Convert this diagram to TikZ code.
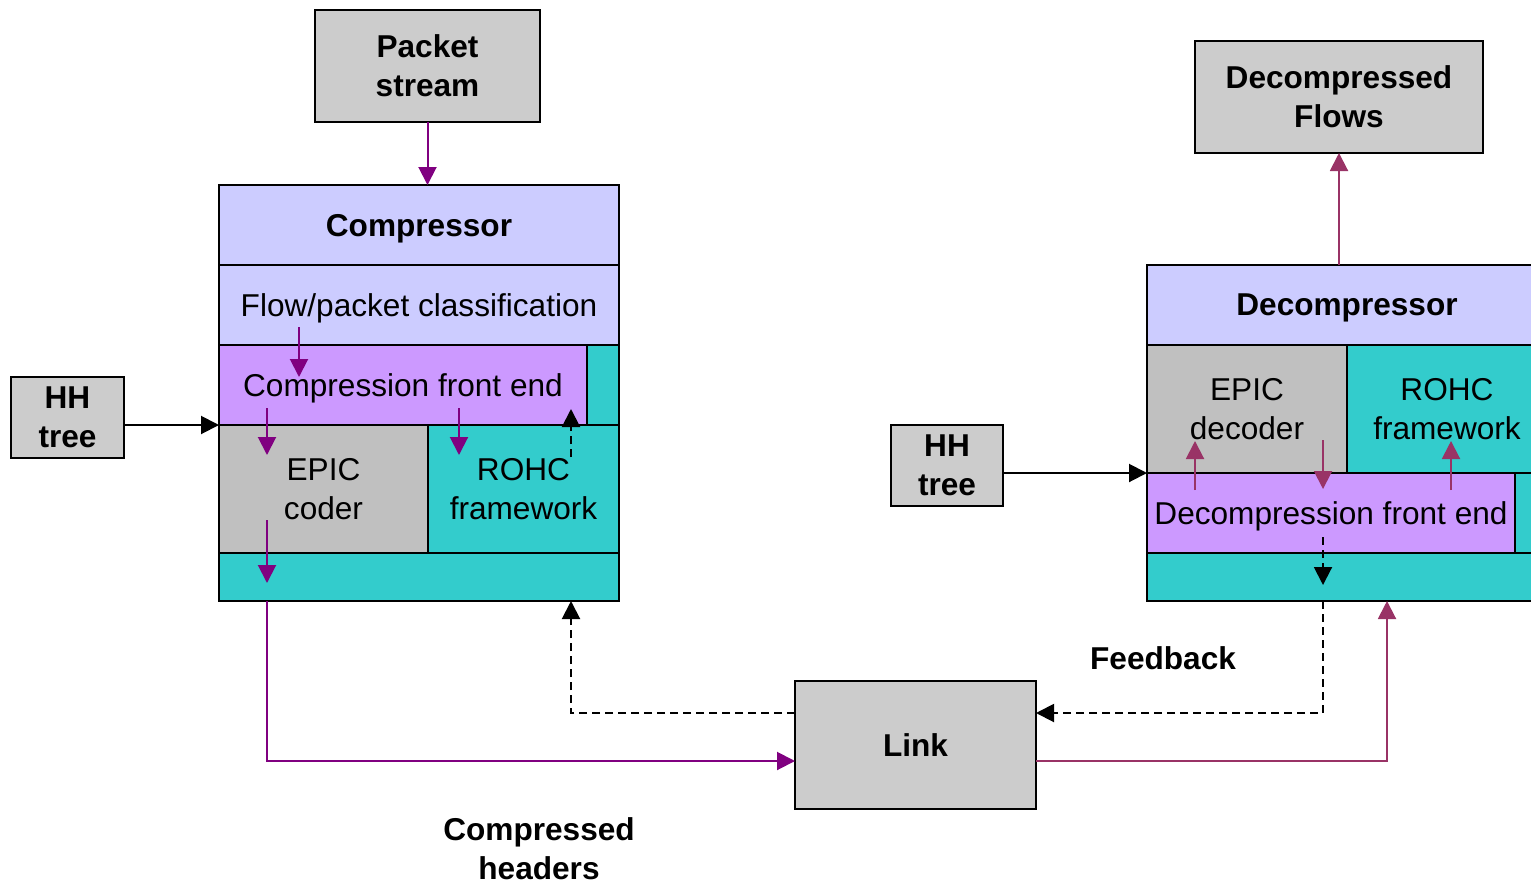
\documentclass[tikz,border=0pt]{standalone}
\usepackage{fontspec}
\setmainfont{Liberation Sans}
\usetikzlibrary{arrows.meta}
\definecolor{boxgray}{HTML}{CCCCCC}
\definecolor{epicgray}{HTML}{C0C0C0}
\definecolor{lav}{HTML}{CCCCFF}
\definecolor{frontend}{HTML}{CC99FF}
\definecolor{teal}{HTML}{33CCCC}
\definecolor{plum}{HTML}{800080}
\definecolor{wine}{HTML}{993366}
% \rbox{name}{x1}{y1}{x2}{y2}{options}{text}: a framed block between two corners
\newcommand\rbox[7]{%
  \node[blk,#6,minimum width={(#4-#2)*0.5pt},minimum height={(#5-#3)*0.5pt}]
    (#1) at ({(#2+#4)/2},{(#3+#5)/2}) {#7};}
\begin{document}
\begin{tikzpicture}[x=0.5pt,y=-0.5pt,
  font=\fontsize{15.8}{19.5}\selectfont,
  blk/.style={draw=black, line width=1pt, inner sep=0pt, outer sep=0pt, align=center},
  oneline/.style={text depth=0pt},
  bld/.style={font=\fontsize{15.8}{19.5}\selectfont\bfseries},
  tip/.style={-{Triangle[length=9pt,width=9pt]}},
  flowc/.style={tip, draw=plum, line width=1pt},
  flowd/.style={tip, draw=wine, line width=1pt},
  ctrl/.style={tip, draw=black, line width=1pt},
  fb/.style={tip, draw=black, line width=1pt, dash pattern=on 4pt off 2.5pt}]
\useasboundingbox (0,0) rectangle (1531,884);
\clip (0,0) rectangle (1531,884);

% ---------- compressor side ----------
\rbox{pkt}{315}{10}{540}{122}{fill=boxgray,bld}{Packet\\stream}
\rbox{comp}{219}{185}{619}{601}{fill=teal}{}
\rbox{chead}{219}{185}{619}{265}{fill=lav,bld,oneline}{Compressor}
\rbox{class}{219}{265}{619}{345}{fill=lav,oneline}{Flow/packet classification}
\rbox{cfe}{219}{345}{587}{425}{fill=frontend,oneline}{Compression front end}
\rbox{coder}{219}{425}{428}{553}{fill=epicgray}{EPIC\\coder}
\rbox{crohc}{428}{425}{619}{553}{fill=teal,text width=90pt}{ROHC\\framework}
\rbox{cbot}{219}{553}{619}{601}{fill=teal}{}
\rbox{hh1}{11}{377}{124}{458}{fill=boxgray,bld}{HH\\tree}

\draw[flowc] (pkt.south) -- (pkt.south |- chead.north);
\draw[ctrl] (cfe.south west -| hh1.east) -- (cfe.south west);

\coordinate (a1s) at (299,327); \coordinate (a1e) at (299,377);
\coordinate (a2s) at (267,408); \coordinate (a2e) at (267,455);
\coordinate (a3s) at (459,408); \coordinate (a3e) at (459,455);
\coordinate (a4s) at (267,520); \coordinate (a4e) at (267,583);
\draw[flowc] (a1s) -- (a1e);
\draw[flowc] (a2s) -- (a2e);
\draw[flowc] (a3s) -- (a3e);
\draw[flowc] (a4s) -- (a4e);
\coordinate (fbcs) at (571,457); \coordinate (fbce) at (571,409);
\draw[fb] (fbcs) -- (fbce);

% ---------- link ----------
\rbox{link}{795}{681}{1036}{809}{fill=boxgray,bld}{Link}
\coordinate (cout) at (267,601);
\coordinate (linkin) at (795,761);
\draw[flowc] (cout) |- (linkin);
\coordinate (linkfbl) at (795,713);
\coordinate (cfbin) at (571,601);
\draw[fb] (linkfbl) -| (cfbin);

\node[bld, align=center] (chdr) at (539,849) {Compressed\\headers};
\node[bld] (fblabel) at (1163,658) {Feedback};

% ---------- decompressor side ----------
\rbox{flows}{1195}{41}{1483}{153}{fill=boxgray,bld}{Decompressed\\Flows}
\rbox{decomp}{1147}{265}{1547}{601}{fill=teal}{}
\rbox{dhead}{1147}{265}{1547}{345}{fill=lav,bld,oneline}{Decompressor}
\rbox{decoder}{1147}{345}{1347}{473}{fill=epicgray}{EPIC\\decoder}
\rbox{drohc}{1347}{345}{1547}{473}{fill=teal}{ROHC\\framework}
\rbox{dfe}{1147}{473}{1515}{553}{fill=frontend,oneline}{Decompression front end}
\rbox{dbot}{1147}{553}{1547}{601}{fill=teal}{}
\rbox{hh2}{891}{425}{1003}{506}{fill=boxgray,bld}{HH\\tree}

\draw[flowd] (flows.south |- dhead.north) -- (flows.south);
\draw[ctrl] (dfe.north west -| hh2.east) -- (dfe.north west);

\coordinate (b1s) at (1195,490); \coordinate (b1e) at (1195,441);
\coordinate (b2s) at (1323,440); \coordinate (b2e) at (1323,489);
\coordinate (b3s) at (1451,490); \coordinate (b3e) at (1451,441);
\draw[flowd] (b1s) -- (b1e);
\draw[flowd] (b2s) -- (b2e);
\draw[flowd] (b3s) -- (b3e);
\coordinate (fbds) at (1323,537); \coordinate (fbde) at (1323,585);
\draw[fb] (fbds) -- (fbde);

\coordinate (dfbout) at (1323,601);
\coordinate (linkfbr) at (1036,713);
\draw[fb] (dfbout) |- (linkfbr);
\coordinate (linkout) at (1036,761);
\coordinate (din) at (1387,601);
\draw[flowd] (linkout) -| (din);
\end{tikzpicture}
\end{document}
